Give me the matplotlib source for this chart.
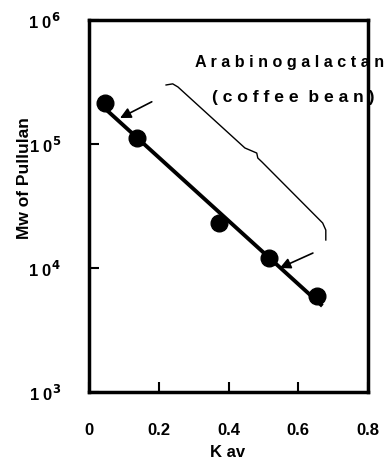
import numpy as np
from matplotlib import pyplot as plt

# Pullulan standards: Kav vs molecular weight
kav = [0.046, 0.137, 0.373, 0.517, 0.655]
mw = [2.13e5, 1.12e5, 2.32e4, 1.20e4, 6.0e3]

x_ticks = [0, 0.2, 0.4, 0.6, 0.8]
x_tick_labels = ['0', '0.2', '0.4', '0.6', '0.8']
y_ticks = [1e3, 1e4, 1e5, 1e6]
y_tick_labels = ['1 0$^3$', '1 0$^4$', '1 0$^5$', '1 0$^6$']

# arrows marking the elution range of arabinogalactan (tip, tail)
arrow_tips = [(0.089, 1.62e5), (0.547, 1.0e4)]
arrow_tails = [(0.180, 2.19e5), (0.642, 1.32e4)]

# curly brace spanning the range
brace_x = [0.221, 0.240, 0.255, 0.447, 0.467, 0.481, 0.484, 0.496, 0.670, 0.679, 0.679]
brace_logy = [5.476, 5.485, 5.460, 4.968, 4.944, 4.927, 4.887, 4.855, 4.363, 4.306, 4.226]

plt.rcParams['font.family'] = ['Liberation Sans', 'DejaVu Sans']
plt.rcParams['font.weight'] = 'bold'
plt.rcParams['axes.labelweight'] = 'bold'
plt.rcParams['mathtext.default'] = 'bf'

fig = plt.figure(figsize=(3.87, 4.62), dpi=100)
ax = fig.add_axes([89 / 387, 1 - 392 / 462, 279 / 387, 372 / 462])

# calibration line
slope, icpt = np.polyfit(kav, np.log10(mw), 1)
fx = np.array([kav[0], kav[-1] + 0.01])
ax.plot(fx, 10 ** (slope * fx + icpt), color='black', lw=2.8, zorder=2)
ax.plot(kav, mw, 'o', color='black', ms=12, zorder=3)

for tip, tail in zip(arrow_tips, arrow_tails):
    ax.annotate('', xy=tip, xytext=tail,
                arrowprops=dict(arrowstyle='-|>', color='black', lw=1.2,
                                mutation_scale=16, shrinkA=0, shrinkB=0))

ax.plot(brace_x, 10 ** np.array(brace_logy), color='black', lw=1.0)

ax.text(0.303, 10 ** 5.655, 'A r a b i n o g a l a c t a n', fontsize=11.6,
        fontweight='bold', ha='left', va='center', clip_on=False)
ax.text(0.352, 10 ** 5.375, '( c o f f e e  b e a n )', fontsize=12.6,
        fontweight='bold', ha='left', va='center', clip_on=False)

ax.set_yscale('log')
ax.set_xlim(0, 0.8)
ax.set_ylim(1e3, 1e6)
ax.set_xticks(x_ticks)
ax.set_xticklabels(x_tick_labels, fontsize=12, fontweight='bold')
ax.set_yticks(y_ticks)
ax.set_yticklabels(y_tick_labels, fontsize=12, fontweight='bold')
ax.minorticks_off()
ax.tick_params(axis='both', direction='in', length=7, width=1.5)
ax.tick_params(axis='x', pad=22)
ax.tick_params(axis='y', pad=20)

for s in ax.spines.values():
    s.set_linewidth(2.5)

ax.set_xlabel('K av', fontsize=12)
ax.xaxis.set_label_coords(0.495, -0.143)
ax.set_ylabel('Mw of Pullulan', fontsize=12.5,
              family=['Liberation Sans Narrow', 'Liberation Sans'])
ax.yaxis.set_label_coords(-0.205, 0.575)

fig.savefig('out.png', dpi=100)
